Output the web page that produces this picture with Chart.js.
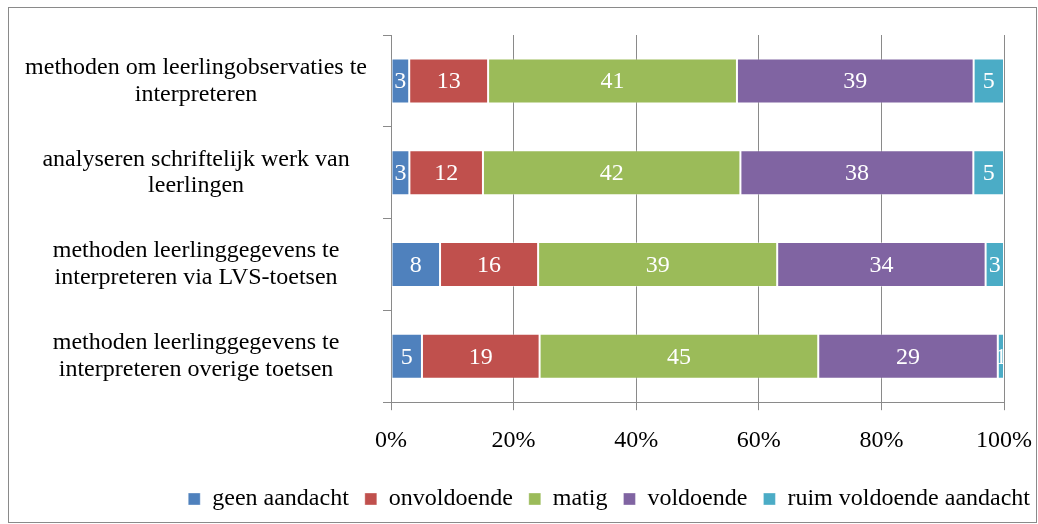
<!DOCTYPE html>
<html>
<head>
<meta charset="utf-8">
<script src="https://cdn.jsdelivr.net/npm/chart.js@4.4.0/dist/chart.umd.min.js"></script>
<style>
  html, body { margin: 0; padding: 0; background: #fff; }
  #wrap { width: 1038px; height: 524px; position: relative; }
</style>
</head>
<body>
<div id="wrap"><canvas id="stacked"></canvas></div>
<script>
// categories (y axis, top to bottom)
const categories = [
  ['methoden om leerlingobservaties te', 'interpreteren'],
  ['analyseren schriftelijk werk van', 'leerlingen'],
  ['methoden leerlinggegevens te', 'interpreteren via LVS-toetsen'],
  ['methoden leerlinggegevens te', 'interpreteren overige toetsen']
];
const seriesNames = ['geen aandacht', 'onvoldoende', 'matig', 'voldoende', 'ruim voldoende aandacht'];

// values as printed on the bars
const geenAandacht = [3, 3, 8, 5];
const onvoldoende = [13, 12, 16, 19];
const matig = [41, 42, 39, 45];
const voldoende = [39, 38, 34, 29];
const ruimVoldoende = [5, 5, 3, 1];

const tickLabels = ['0%', '20%', '40%', '60%', '80%', '100%'];

const colors = ['#4F81BD', '#C0504D', '#9BBB59', '#8064A2', '#4BACC6'];
const serif = "'Liberation Serif', 'Times New Roman', serif";

const series = [geenAandacht, onvoldoende, matig, voldoende, ruimVoldoende];
// 100% stacked: every row scaled to its own total
const rowTotals = categories.map((c, i) => series.reduce((s, arr) => s + arr[i], 0));

const datasets = series.map((arr, k) => ({
  label: seriesNames[k],
  data: arr.map((v, i) => v / rowTotals[i] * 100),
  printed: arr,
  backgroundColor: colors[k],
  borderColor: 'rgba(255,255,255,0.35)',
  borderWidth: 1,
  borderSkipped: false,
  barPercentage: 0.49,
  categoryPercentage: 1
}));

// white numbers in the middle of each segment
const barLabels = {
  id: 'barLabels',
  afterDatasetsDraw(chart) {
    const { ctx, chartArea } = chart;
    ctx.save();
    ctx.beginPath();
    ctx.rect(chartArea.left, chartArea.top, chartArea.width, chartArea.height);
    ctx.clip();
    ctx.fillStyle = '#fff';
    ctx.font = '24px ' + serif;
    ctx.textAlign = 'center';
    ctx.textBaseline = 'middle';
    chart.data.datasets.forEach((ds, di) => {
      chart.getDatasetMeta(di).data.forEach((bar, i) => {
        const p = bar.getProps(['x', 'y', 'base'], true);
        ctx.fillText(String(ds.printed[i]), (p.x + p.base) / 2, p.y + 1);
      });
    });
    ctx.restore();
  }
};

// thin grey frame round the whole chart, legend nudged to the right like the original
const frame = {
  id: 'frame',
  afterLayout(chart) {
    if (chart.legend) {
      chart.legend.left += 12;
      chart.legend.right += 12;
    }
  },
  beforeDraw(chart) {
    const c = chart.ctx;
    c.save();
    c.strokeStyle = '#8a8a8a';
    c.lineWidth = 1;
    c.strokeRect(8.5, 7.5, chart.width - 10, chart.height - 9);
    c.restore();
  }
};

const ctx = document.getElementById('stacked');

new Chart(ctx, {
  type: 'bar',
  data: {
    labels: categories,
    datasets: datasets
  },
  options: {
    indexAxis: 'y',
    responsive: true,
    maintainAspectRatio: false,
    animation: false,
    layout: {
      padding: { top: 35, left: 10, right: 4, bottom: 3 }
    },
    plugins: {
      legend: {
        position: 'bottom',
        align: 'end',
        labels: {
          font: { family: serif, size: 24 },
          color: '#000',
          boxWidth: 12,
          boxHeight: 12,
          padding: 16
        }
      },
      tooltip: { enabled: false }
    },
    scales: {
      x: {
        stacked: true,
        min: 0,
        max: 100,
        grid: { color: '#8a8a8a', tickLength: 8 },
        border: { color: '#8a8a8a' },
        ticks: {
          stepSize: 20,
          maxRotation: 0,
          padding: 16,
          color: '#000',
          font: { family: serif, size: 24 },
          callback: (v) => tickLabels[Math.round(v / 20)]
        },
        afterFit(scale) { scale.paddingRight = 34; }
      },
      y: {
        stacked: true,
        grid: { drawOnChartArea: false, tickLength: 8, color: '#8a8a8a', offset: true },
        border: { color: '#8a8a8a' },
        ticks: {
          padding: 16,
          crossAlign: 'center',
          color: '#000',
          font: { family: serif, size: 24, lineHeight: 1.12 }
        },
        afterFit(scale) {
          scale.width = 381;
          scale.paddingTop = 0;
          scale.paddingBottom = 0;
        }
      }
    }
  },
  plugins: [barLabels, frame]
});
</script>
</body>
</html>
